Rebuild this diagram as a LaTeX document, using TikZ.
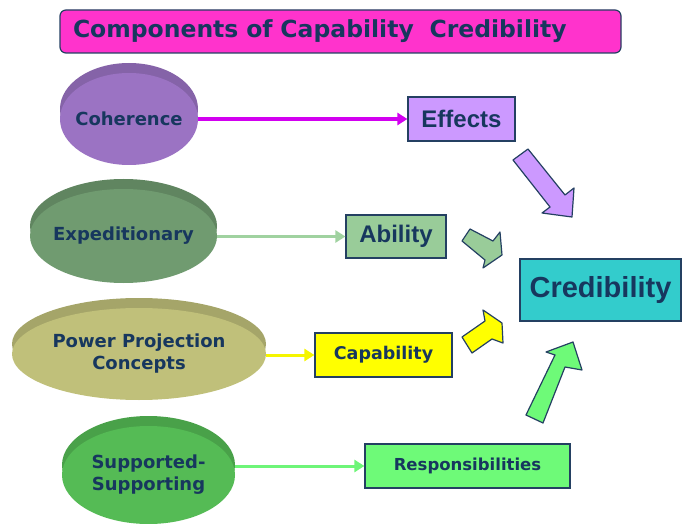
\documentclass[tikz,border=0pt]{standalone}
\usepackage{fontspec}
\setmainfont{DejaVu Sans}
\newfontfamily\arialfont{Liberation Sans}
\usetikzlibrary{shapes.geometric,arrows.meta}

\definecolor{navy}{RGB}{23,55,94}
\definecolor{edgeblue}{RGB}{36,64,98}
\definecolor{titlepink}{RGB}{255,51,204}
\definecolor{cohfill}{RGB}{155,115,195}
\definecolor{expfill}{RGB}{112,155,112}
\definecolor{powfill}{RGB}{192,192,122}
\definecolor{supfill}{RGB}{85,187,85}
\definecolor{efffill}{RGB}{204,153,255}
\definecolor{abifill}{RGB}{153,204,153}
\definecolor{capfill}{RGB}{255,255,0}
\definecolor{resfill}{RGB}{110,250,120}
\definecolor{crefill}{RGB}{51,204,204}
\definecolor{magline}{RGB}{210,0,240}
\definecolor{abiline}{RGB}{160,210,160}
\definecolor{capline}{RGB}{245,245,0}
\definecolor{resline}{RGB}{110,245,120}

\tikzset{
  oval/.style={ellipse, fill=#1, preaction={fill=#1!86!black, transform canvas={yshift=10pt}},
    inner sep=0pt},
  ovaltext/.style={align=center, text=navy, inner sep=0pt, font=\fontsize{18}{22}\selectfont\bfseries},
  box/.style={draw=edgeblue, line width=1.2pt, fill=#1, inner sep=0pt, text=navy},
  link/.style={line width=3pt, -{Triangle[length=10pt,width=12pt]}},
  blockarrow/.style={draw=edgeblue, line width=1.2pt, line join=round},
}

\begin{document}
\begin{tikzpicture}[x=1pt, y=-1pt]
\useasboundingbox (0,0) rectangle (683,524);

\node[box=titlepink, rounded corners=6pt, minimum height=43, text width=535, inner xsep=13,
  align=left, font=\fontsize{23.5}{26}\selectfont\bfseries] (title) at (340.5,31.5)
  {Components of Capability~ Credibility};

\node[oval=cohfill, minimum width=138, minimum height=92,
  label={[ovaltext]center:Coherence}] (coh) at (129,119) {};
\node[oval=expfill, minimum width=187, minimum height=94,
  label={[ovaltext]center:Expeditionary}] (exp) at (123.5,236) {};
\node[oval=powfill, minimum width=254, minimum height=92,
  label={[ovaltext]center:Power Projection\\Concepts}] (pow) at (139,354) {};
\node[oval=supfill, minimum width=173, minimum height=98,
  label={[ovaltext]center:Supported-\\Supporting}] (sup) at (148.5,475) {};

\node[box=efffill, minimum width=107, minimum height=44, font=\arialfont\bfseries\fontsize{24}{28}\selectfont] (eff) at (461.5,119) {Effects};
\node[box=abifill, minimum width=100, minimum height=43, font=\arialfont\bfseries\fontsize{24}{28}\selectfont] (abi) at (396,236.5) {Ability};
\node[box=capfill, minimum width=137, minimum height=44, font=\fontsize{17.5}{20}\selectfont\bfseries] (cap) at (383.5,355) {Capability};
\node[box=resfill, minimum width=205, minimum height=44, font=\fontsize{16.5}{20}\selectfont\bfseries] (res) at (467.5,466) {Responsibilities};
\node[box=crefill, minimum width=161, minimum height=62, font=\arialfont\bfseries\fontsize{29}{34}\selectfont] (cre) at (600.5,290) {Credibility};

\draw[link, magline, line width=4pt] (coh.east |- eff.west) -- (eff.west);
\foreach \a/\b/\c in {exp/abi/abiline, pow/cap/capline, sup/res/resline}
  \draw[link, \c] (\a.east |- \b.west) -- (\b.west);

\draw[blockarrow, fill=efffill] (513,160) -- (528,149) -- (565,195) -- (574,188) -- (572,217) -- (542,213) -- (550,207) -- cycle;
\draw[blockarrow, fill=abifill] (470,229) -- (493,241) -- (500,232) -- (502,255) -- (483,268) -- (485,260) -- (462,241) -- cycle;
\draw[blockarrow, fill=capfill] (462,337) -- (485,321) -- (483,310) -- (502,323) -- (503,343) -- (492,339) -- (472,353) -- cycle;
\draw[blockarrow, fill=resfill] (526,415) -- (555,355) -- (546,352) -- (573,342) -- (582,370) -- (565,367) -- (543,423) -- cycle;

\end{tikzpicture}
\end{document}
